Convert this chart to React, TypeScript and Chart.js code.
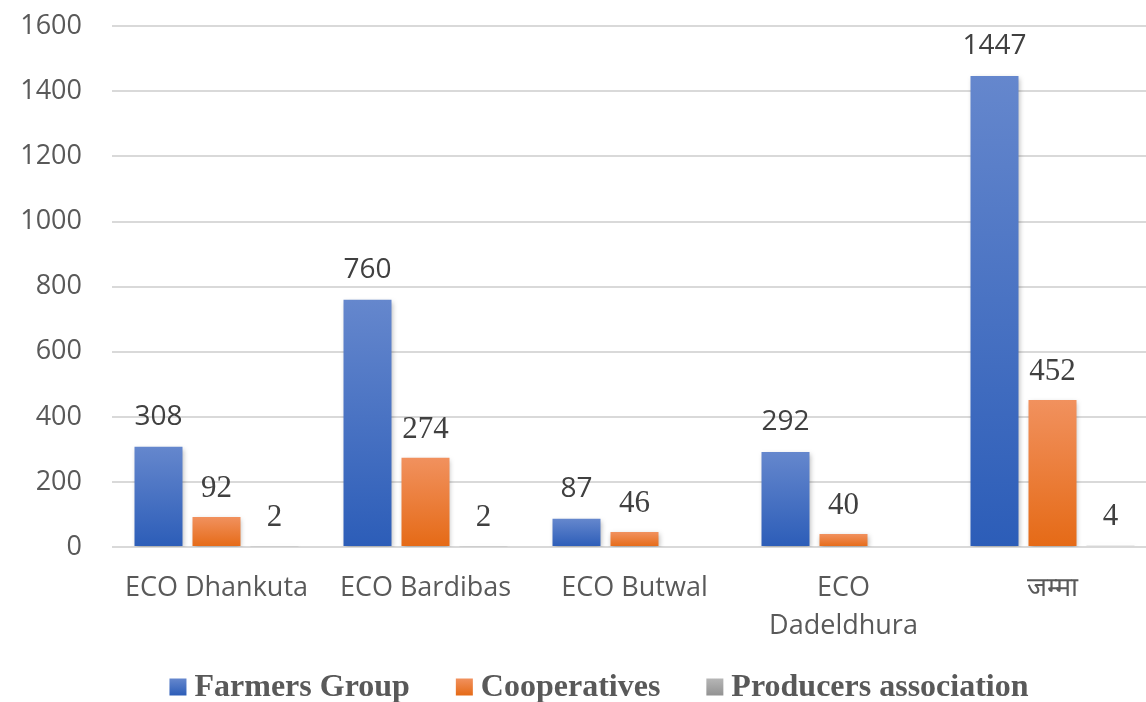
import React, { useEffect, useRef } from "react";
import { Chart, registerables } from "chart.js";

Chart.register(...registerables);

const categories: (string | string[])[] = [
  "ECO Dhankuta",
  "ECO Bardibas",
  "ECO Butwal",
  ["ECO", "Dadeldhura"],
  "जम्मा",
];
const farmersGroup = [308, 760, 87, 292, 1447];
const cooperatives = [92, 274, 46, 40, 452];
const producersAssociation: (number | null)[] = [2, 2, null, null, 4];
const seriesNames = ["Farmers Group", "Cooperatives", "Producers association"];
const yTicks = { min: 0, max: 1600, step: 200 };

const gradStops = [
  ["rgb(101,135,205)", "rgb(44,93,184)"],
  ["rgb(241,145,94)", "rgb(229,106,22)"],
  ["rgb(182,182,182)", "rgb(146,146,146)"],
];
const legendColors = ["rgb(70,112,196)", "rgb(236,125,50)", "rgb(165,165,165)"];

const SHIFT_Y = 20;

function barGradient(i: number) {
  return (ctx: any) => {
    const chart = ctx.chart;
    const y = chart.scales?.y;
    if (!y || ctx.dataIndex === undefined) return legendColors[i];
    const v = ctx.raw;
    if (v === null || v === undefined) return legendColors[i];
    const top = y.getPixelForValue(v);
    const bottom = y.getPixelForValue(0);
    if (!isFinite(top) || !isFinite(bottom) || top === bottom) return legendColors[i];
    const g = chart.ctx.createLinearGradient(0, top, 0, bottom);
    g.addColorStop(0, gradStops[i][0]);
    g.addColorStop(1, gradStops[i][1]);
    return g;
  };
}

const shadowPlugin = {
  id: "barShadow",
  beforeDatasetDraw(chart: any) {
    const c = chart.ctx;
    c.save();
    c.shadowColor = "rgba(0,0,0,0.28)";
    c.shadowBlur = 5;
    c.shadowOffsetX = 1;
    c.shadowOffsetY = 2;
  },
  afterDatasetDraw(chart: any) {
    chart.ctx.restore();
  },
};

const SERIF = "'Liberation Serif', 'Times New Roman', 'DejaVu Serif', serif";
const labelFonts = [
  "28px 'Open Sans', sans-serif",
  `31px ${SERIF}`,
  `31px ${SERIF}`,
];
const labelOffsets = [30, 28, 29];

const dataLabelPlugin = {
  id: "dataLabels",
  afterDatasetsDraw(chart: any) {
    const c = chart.ctx;
    chart.data.datasets.forEach((ds: any, di: number) => {
      const meta = chart.getDatasetMeta(di);
      meta.data.forEach((el: any, i: number) => {
        const v = ds.data[i];
        if (v === null || v === undefined) return;
        c.save();
        c.font = labelFonts[di];
        c.fillStyle = "#404040";
        c.textAlign = "center";
        c.textBaseline = "middle";
        c.fillText(String(v), el.x, el.y - labelOffsets[di]);
        c.restore();
      });
    });
  },
};

const customLegend = {
  id: "customLegend",
  afterDraw(chart: any) {
    const c = chart.ctx;
    c.save();
    c.font = `bold 32px ${SERIF}`;
    const box = 17;
    const gapText = 8;
    const gapItem = 46;
    const widths = seriesNames.map((n) => c.measureText(n).width);
    const total =
      widths.reduce((a, b) => a + b, 0) + seriesNames.length * (box + gapText) + (seriesNames.length - 1) * gapItem;
    const cx = 599;
    const cy = 687 + SHIFT_Y;
    let x = cx - total / 2;
    seriesNames.forEach((n, i) => {
      const g = c.createLinearGradient(0, cy - box / 2, 0, cy + box / 2);
      g.addColorStop(0, gradStops[i][0]);
      g.addColorStop(1, gradStops[i][1]);
      c.fillStyle = g;
      c.fillRect(x, cy - box / 2, box, box);
      x += box + gapText;
      c.fillStyle = "#595959";
      c.textAlign = "left";
      c.textBaseline = "middle";
      c.fillText(n, x, cy + 1);
      x += widths[i] + gapItem;
    });
    c.restore();
  },
};

export default function App() {
  const ref = useRef<HTMLCanvasElement>(null);
  useEffect(() => {
    if (!ref.current) return;
    const chart = new Chart(ref.current, {
      type: "bar",
      data: {
        labels: categories,
        datasets: [
          { label: seriesNames[0], data: farmersGroup, backgroundColor: barGradient(0) },
          { label: seriesNames[1], data: cooperatives, backgroundColor: barGradient(1) },
          { label: seriesNames[2], data: producersAssociation as any, backgroundColor: barGradient(2) },
        ],
      },
      options: {
        responsive: false,
        animation: false,
        layout: { padding: { top: 0, left: 0, right: 0, bottom: 35 } },
        datasets: {
          bar: { categoryPercentage: 0.8325, barPercentage: 0.8276 },
        },
        scales: {
          x: {
            grid: { display: false, drawTicks: false },
            border: { display: false },
            ticks: {
              color: "#595959",
              font: { family: "'Open Sans'", size: 27, lineHeight: 1.407 },
              padding: 22,
              maxRotation: 0,
              autoSkip: false,
            },
          },
          y: {
            min: yTicks.min,
            max: yTicks.max,
            afterFit(scale: any) {
              scale.width = 112;
            },
            grid: { color: "#d9d9d9", lineWidth: 2, drawTicks: false },
            border: { display: false },
            ticks: {
              stepSize: yTicks.step,
              color: "#595959",
              font: { family: "'Open Sans'", size: 27 },
              padding: 30,
              callback: (v: any) => String(v),
            },
          },
        },
        plugins: {
          tooltip: { enabled: false },
          legend: { display: false },
        },
      } as any,
      plugins: [shadowPlugin, dataLabelPlugin, customLegend],
    });
    return () => chart.destroy();
  }, []);
  return (
    <div
      style={{
        position: "fixed",
        left: 0,
        top: 0,
        width: 1146,
        height: 702,
        overflow: "hidden",
        background: "#fff",
      }}
    >
      <canvas
        ref={ref}
        width={1157}
        height={702 + SHIFT_Y}
        style={{ display: "block", position: "absolute", left: 0, top: -SHIFT_Y }}
      />
    </div>
  );
}
